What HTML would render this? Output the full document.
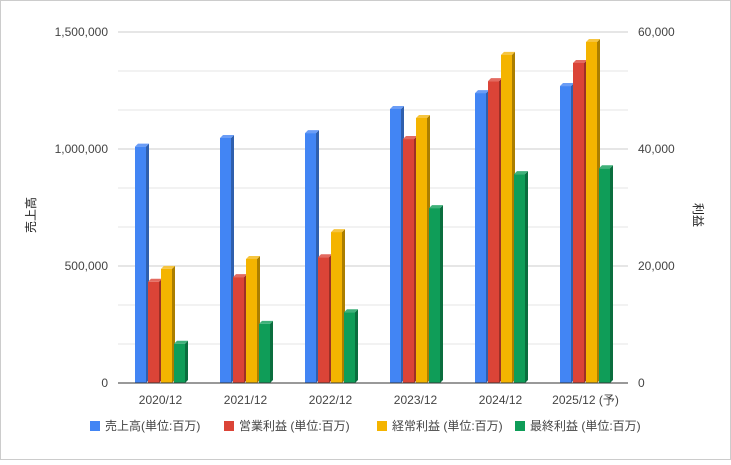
<!DOCTYPE html>
<html><head><meta charset="utf-8"><style>
body{margin:0;background:#fff}
svg text{font-family:"Liberation Sans","Noto Sans CJK JP",sans-serif}
</style></head><body>
<svg width="731" height="460" id="c">
<rect x="0.5" y="0.5" width="730" height="459" fill="#fff" stroke="#ccc"/>
<g id="grid"></g><g id="bars"></g><g id="axes"></g><g id="legend"></g>
</svg>
<script>
const categories=["2020/12","2021/12","2022/12","2023/12","2024/12","2025/12 (予)"];
const sales=[1010000,1047000,1068000,1171000,1239000,1269000];
const opProfit=[17300,18100,21500,41700,51600,54700];
const ordProfit=[19500,21200,25800,45300,56100,58300];
const netProfit=[6700,10100,12100,29900,35700,36700];
const leftTicks=[0,500000,1000000,1500000];
const rightTicks=[0,20000,40000,60000];
const seriesNames=["売上高(単位:百万)","営業利益 (単位:百万)","経常利益 (単位:百万)","最終利益 (単位:百万)"];
const NS="http://www.w3.org/2000/svg";
const X0=118,X1=628,Y0=383,Y1=32;
const yL=v=>Y0-(v/1500000)*(Y0-Y1);
const yR=v=>Y0-(v/60000)*(Y0-Y1);
const groupX=i=>X0+(X1-X0)/categories.length*(i+0.5);
function el(t,a,p){const e=document.createElementNS(NS,t);for(const k in a)e.setAttribute(k,a[k]);p.appendChild(e);return e;}
const grid=document.getElementById('grid'),bars=document.getElementById('bars'),axes=document.getElementById('axes'),leg=document.getElementById('legend');
for(let k=1;k<=9;k++){const y=Y0-k*(Y0-Y1)/9;const g=el('line',{x1:X0,x2:X1,y1:y,y2:y,stroke:k%3==0?'#ccc':'#e6e6e6'},grid);

}
leftTicks.forEach(v=>{const t=el('text',{x:108,y:yL(v)+4,'text-anchor':'end','font-size':12,fill:'#444'},axes);t.textContent=v.toLocaleString('en-US');

});
rightTicks.forEach(v=>{const t=el('text',{x:638,y:yR(v)+4,'font-size':12,fill:'#444'},axes);t.textContent=v.toLocaleString('en-US');

});
const cols=[["#4285f4","#2f5fad","#6b9df6"],["#db4437","#9c3027","#e36a60"],["#f4b400","#ab7e00","#f6c540"],["#0f9d58","#0a6e3e","#3fb17a"]];
const data=[sales.map(yL),opProfit.map(yR),ordProfit.map(yR),netProfit.map(yR)];
const W=11,D=3,S=13;
categories.forEach((c,i)=>{const gx=groupX(i)-2*S+0.5;
for(let s=0;s<4;s++){const x=gx+s*S,y=data[s][i];
const g=el('g',{},bars);


el('polygon',{points:`${x+W},${y} ${x+W+D},${y-D} ${x+W+D},${Y0-D} ${x+W},${Y0}`,fill:cols[s][1]},g);
el('polygon',{points:`${x},${y} ${x+D},${y-D} ${x+W+D},${y-D} ${x+W},${y}`,fill:cols[s][2]},g);
el('rect',{x:x,y:y,width:W,height:Y0-y,fill:cols[s][0]},g);}
const t=el('text',{x:groupX(i),y:404,'text-anchor':'middle','font-size':12,fill:'#444'},axes);t.textContent=c;

});
const base=el('line',{x1:X0,x2:X1,y1:Y0,y2:Y0,stroke:'#333','stroke-width':1},axes);


const lt=el('text',{x:0,y:0,'font-size':12,fill:'#222','text-anchor':'middle',transform:'translate(35,215) rotate(-90)'},axes);lt.textContent='売上高';


const rt=el('text',{x:0,y:0,'font-size':12,fill:'#222','text-anchor':'middle',transform:'translate(694,215) rotate(90)'},axes);rt.textContent='利益';


const lx=[90,224,377,515];
seriesNames.forEach((n,s)=>{const g=el('g',{},leg);


el('rect',{x:lx[s],y:421,width:10,height:10,fill:cols[s][0]},g);
const t=el('text',{x:lx[s]+15,y:430,'font-size':12,fill:'#444'},g);t.textContent=n;});
</script>
</body></html>
